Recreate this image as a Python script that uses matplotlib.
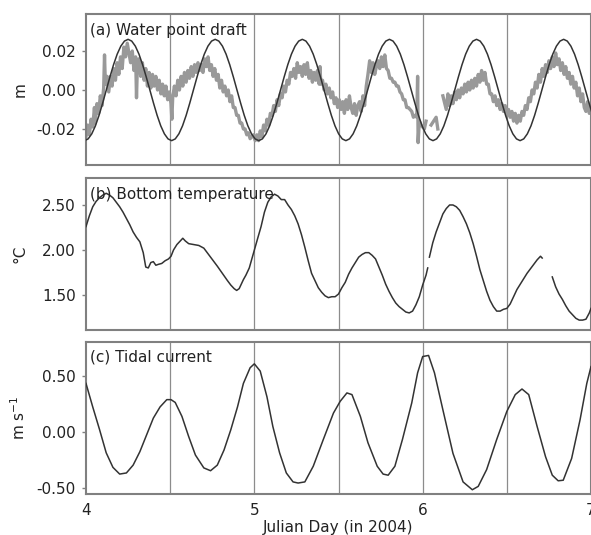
import matplotlib
matplotlib.use('Agg')
import matplotlib.pyplot as plt
import numpy as np

plt.rcParams['font.family'] = ['DejaVu Sans']
plt.rcParams['axes.unicode_minus'] = False

# --- (a) water point draft: measured record (m) ---
draft_day = [
    4.000, 4.010, 4.020, 4.030, 4.040, 4.050, 4.055, 4.065, 4.075, 4.085,
    4.095, 4.105, 4.110, 4.115, 4.125, 4.135, 4.145, 4.155, 4.165, 4.175,
    4.185, 4.195, 4.205, 4.215, 4.225, 4.235, 4.245, 4.255, 4.265, 4.275,
    4.285, 4.295, 4.300, 4.305, 4.315, 4.325, 4.335, 4.345, 4.355, 4.365,
    4.375, 4.385, 4.395, 4.405, 4.415, 4.425, 4.435, 4.445, 4.455, 4.465,
    4.475, 4.485, 4.495, 4.505, 4.510, 4.515, 4.525, 4.535, 4.545, 4.555,
    4.565, 4.575, 4.585, 4.595, 4.605, 4.615, 4.625, 4.635, 4.645, 4.655,
    4.665, 4.675, 4.685, 4.695, 4.705, 4.715, 4.725, 4.735, 4.745, 4.755,
    4.765, 4.775, 4.785, 4.795, 4.805, 4.815, 4.825, 4.835, 4.845, 4.855,
    4.865, 4.875, 4.885, 4.895, 4.905, 4.915, 4.925, 4.935, 4.945, 4.955,
    4.965, 4.975, 4.985, 4.995, 5.005, 5.015, 5.025, 5.035, 5.045, 5.055,
    5.065, 5.075, 5.085, 5.095, 5.105, 5.115, 5.125, 5.135, 5.145, 5.155,
    5.165, 5.175, 5.185, 5.195, 5.205, 5.215, 5.225, 5.235, 5.245, 5.255,
    5.265, 5.275, 5.285, 5.295, 5.305, 5.315, 5.325, 5.335, 5.345, 5.355,
    5.365, 5.375, 5.385, 5.390, 5.395, 5.405, 5.415, 5.425, 5.435, 5.445,
    5.455, 5.465, 5.475, 5.485, 5.495, 5.505, 5.515, 5.525, 5.535, 5.545,
    5.555, 5.565, 5.575, 5.585, 5.595, 5.605, 5.615, 5.625, 5.635, 5.645,
    5.655, 5.665, 5.675, 5.685, 5.695, 5.705, 5.715, 5.725, 5.735, 5.745,
    5.755, 5.765, 5.775, 5.785, 5.795, 5.805, 5.815, 5.825, 5.835, 5.845,
    5.855, 5.865, 5.875, 5.885, 5.895, 5.905, 5.915, 5.925, 5.935, 5.945,
    5.955, 5.965, 5.970, 5.973, 5.980, 5.990, 6.000, 6.010, 6.020, 6.030,
    6.050, 6.080, 6.090, 6.100, 6.120, 6.140, 6.150, 6.160, 6.170, 6.180,
    6.190, 6.200, 6.210, 6.220, 6.230, 6.240, 6.250, 6.260, 6.270, 6.280,
    6.290, 6.300, 6.310, 6.320, 6.330, 6.340, 6.350, 6.360, 6.370, 6.380,
    6.390, 6.400, 6.410, 6.420, 6.430, 6.440, 6.450, 6.460, 6.470, 6.480,
    6.490, 6.500, 6.510, 6.520, 6.530, 6.540, 6.550, 6.560, 6.570, 6.580,
    6.590, 6.600, 6.610, 6.620, 6.630, 6.640, 6.650, 6.660, 6.670, 6.680,
    6.690, 6.700, 6.710, 6.720, 6.730, 6.740, 6.750, 6.760, 6.770, 6.780,
    6.790, 6.800, 6.810, 6.820, 6.830, 6.840, 6.850, 6.860, 6.870, 6.880,
    6.890, 6.900, 6.910, 6.920, 6.930, 6.940, 6.950, 6.960, 6.970, 6.980,
    6.990, 7.000,
]
draft_m = [
    -0.024, -0.018, -0.023, -0.015, -0.019, -0.009, -0.017, -0.007, -0.012, -0.003,
    -0.008, 0.001, 0.018, 0.003, 0.007, -0.001, 0.007, 0.002, 0.011, 0.005,
    0.014, 0.008, 0.017, 0.011, 0.022, 0.017, 0.024, 0.019, 0.014, 0.020,
    0.010, 0.017, -0.004, 0.012, 0.016, 0.007, 0.014, 0.005, 0.011, 0.002,
    0.009, 0.001, 0.008, 0.002, 0.007, 0.000, 0.005, -0.002, 0.003, -0.003,
    0.002, -0.005, -0.001, -0.007, -0.015, -0.004, 0.002, -0.003, 0.005, 0.000,
    0.007, 0.002, 0.009, 0.004, 0.010, 0.006, 0.012, 0.007, 0.013, 0.009,
    0.014, 0.010, 0.013, 0.009, 0.016, 0.012, 0.017, 0.010, 0.013, 0.007,
    0.011, 0.005, 0.008, 0.001, 0.005, -0.001, 0.002, -0.003, 0.000, -0.006,
    -0.003, -0.009, -0.009, -0.013, -0.013, -0.017, -0.017, -0.020, -0.020, -0.023,
    -0.022, -0.025, -0.024, -0.023, -0.026, -0.023, -0.026, -0.021, -0.024, -0.018,
    -0.021, -0.015, -0.018, -0.012, -0.013, -0.008, -0.011, -0.005, -0.008, -0.002,
    -0.004, 0.002, -0.001, 0.005, 0.003, 0.009, 0.007, 0.011, 0.006, 0.014,
    0.009, 0.012, 0.007, 0.013, 0.008, 0.014, 0.006, 0.010, 0.004, 0.009,
    0.005, 0.010, 0.003, 0.012, 0.003, 0.005, 0.000, 0.003, -0.002, 0.001,
    -0.004, -0.001, -0.007, -0.004, -0.009, -0.005, -0.010, -0.006, -0.012, -0.005,
    -0.010, -0.003, -0.009, -0.012, -0.007, -0.013, -0.008, -0.006, -0.011, -0.003,
    -0.008, 0.002, 0.008, 0.015, 0.009, 0.014, 0.008, 0.012, 0.015, 0.011,
    0.017, 0.012, 0.018, 0.011, 0.010, 0.006, 0.006, 0.004, 0.004, 0.002,
    0.002, -0.001, -0.002, -0.005, -0.005, -0.009, -0.009, -0.010, -0.011, -0.014,
    -0.013, -0.014, 0.007, -0.027, -0.016, -0.018, -0.019, -0.020, -0.016, np.nan,
    -0.018, -0.014, -0.020, np.nan, -0.003, -0.010, -0.002, -0.008, -0.003, -0.007,
    -0.001, -0.005, 0.000, -0.004, 0.001, -0.002, 0.003, -0.001, 0.004, 0.000,
    0.005, 0.001, 0.006, 0.002, 0.008, 0.004, 0.010, 0.005, 0.009, 0.003,
    0.003, -0.002, -0.002, -0.006, -0.003, -0.008, -0.005, -0.010, -0.007, -0.011,
    -0.008, -0.013, -0.010, -0.014, -0.011, -0.016, -0.012, -0.017, -0.013, -0.016,
    -0.011, -0.013, -0.008, -0.010, -0.004, -0.006, 0.000, -0.002, 0.004, 0.001,
    0.008, 0.004, 0.011, 0.007, 0.013, 0.009, 0.015, 0.011, 0.017, 0.012,
    0.019, 0.013, 0.016, 0.010, 0.014, 0.008, 0.012, 0.006, 0.009, 0.003,
    0.007, 0.001, 0.004, -0.003, 0.001, -0.006, -0.002, -0.009, -0.011, -0.006,
    -0.012, -0.010,
]

# --- (a) predicted tidal draft (m), sampled every 1/24 of an M2 cycle ---
model_day = np.linspace(3.99125, 7.0963, 145)
model_m = [
    -0.0260, -0.0251, -0.0225, -0.0184, -0.0130, -0.0067, 0.0000, 0.0067, 0.0130, 0.0184, 0.0225, 0.0251,
    0.0260, 0.0251, 0.0225, 0.0184, 0.0130, 0.0067, 0.0000, -0.0067, -0.0130, -0.0184, -0.0225, -0.0251,
    -0.0260, -0.0251, -0.0225, -0.0184, -0.0130, -0.0067, 0.0000, 0.0067, 0.0130, 0.0184, 0.0225, 0.0251,
    0.0260, 0.0251, 0.0225, 0.0184, 0.0130, 0.0067, 0.0000, -0.0067, -0.0130, -0.0184, -0.0225, -0.0251,
    -0.0260, -0.0251, -0.0225, -0.0184, -0.0130, -0.0067, 0.0000, 0.0067, 0.0130, 0.0184, 0.0225, 0.0251,
    0.0260, 0.0251, 0.0225, 0.0184, 0.0130, 0.0067, 0.0000, -0.0067, -0.0130, -0.0184, -0.0225, -0.0251,
    -0.0260, -0.0251, -0.0225, -0.0184, -0.0130, -0.0067, 0.0000, 0.0067, 0.0130, 0.0184, 0.0225, 0.0251,
    0.0260, 0.0251, 0.0225, 0.0184, 0.0130, 0.0067, 0.0000, -0.0067, -0.0130, -0.0184, -0.0225, -0.0251,
    -0.0260, -0.0251, -0.0225, -0.0184, -0.0130, -0.0067, 0.0000, 0.0067, 0.0130, 0.0184, 0.0225, 0.0251,
    0.0260, 0.0251, 0.0225, 0.0184, 0.0130, 0.0067, 0.0000, -0.0067, -0.0130, -0.0184, -0.0225, -0.0251,
    -0.0260, -0.0251, -0.0225, -0.0184, -0.0130, -0.0067, 0.0000, 0.0067, 0.0130, 0.0184, 0.0225, 0.0251,
    0.0260, 0.0251, 0.0225, 0.0184, 0.0130, 0.0067, 0.0000, -0.0067, -0.0130, -0.0184, -0.0225, -0.0251,
    -0.0260,
]

# --- (b) bottom temperature (deg C) ---
temp_day = [
    4.00, 4.02, 4.04, 4.06, 4.08, 4.10, 4.12, 4.14, 4.16, 4.18,
    4.20, 4.22, 4.24, 4.26, 4.28, 4.30, 4.32, 4.34, 4.355, 4.37,
    4.385, 4.40, 4.415, 4.43, 4.45, 4.47, 4.49, 4.505, 4.52, 4.54,
    4.56, 4.575, 4.59, 4.61, 4.64, 4.67, 4.70, 4.72, 4.74, 4.76,
    4.78, 4.81, 4.84, 4.86, 4.88, 4.895, 4.91, 4.935, 4.95, 4.97,
    4.985, 5.00, 5.02, 5.04, 5.06, 5.08, 5.10, 5.12, 5.14, 5.16,
    5.18, 5.20, 5.22, 5.24, 5.26, 5.28, 5.30, 5.32, 5.34, 5.36,
    5.38, 5.40, 5.42, 5.44, 5.46, 5.48, 5.50, 5.52, 5.54, 5.56,
    5.58, 5.60, 5.62, 5.64, 5.66, 5.68, 5.70, 5.72, 5.74, 5.76,
    5.78, 5.80, 5.82, 5.84, 5.86, 5.88, 5.90, 5.92, 5.94, 5.96,
    5.98, 6.00, 6.02, 6.03, 6.035, 6.04, 6.06, 6.08, 6.10, 6.12,
    6.14, 6.16, 6.18, 6.20, 6.22, 6.24, 6.26, 6.28, 6.30, 6.32,
    6.34, 6.36, 6.38, 6.40, 6.42, 6.44, 6.46, 6.48, 6.50, 6.52,
    6.54, 6.56, 6.58, 6.60, 6.62, 6.64, 6.66, 6.68, 6.70, 6.71,
    6.74, 6.77, 6.79, 6.81, 6.83, 6.85, 6.87, 6.89, 6.91, 6.93,
    6.95, 6.97, 6.99, 7.00,
]
temp_c = [
    2.26, 2.38, 2.48, 2.54, 2.58, 2.61, 2.63, 2.61, 2.58, 2.53,
    2.48, 2.42, 2.35, 2.28, 2.20, 2.14, 2.09, 1.97, 1.81, 1.80,
    1.86, 1.87, 1.83, 1.84, 1.85, 1.88, 1.90, 1.93, 2.00, 2.06,
    2.10, 2.13, 2.10, 2.07, 2.06, 2.05, 2.02, 1.97, 1.92, 1.87,
    1.82, 1.74, 1.66, 1.61, 1.57, 1.55, 1.57, 1.67, 1.72, 1.80,
    1.90, 2.00, 2.13, 2.26, 2.42, 2.53, 2.59, 2.62, 2.60, 2.56,
    2.56, 2.50, 2.45, 2.38, 2.29, 2.17, 2.03, 1.88, 1.74, 1.66,
    1.58, 1.53, 1.49, 1.47, 1.48, 1.48, 1.51, 1.58, 1.64, 1.73,
    1.80, 1.86, 1.92, 1.95, 1.97, 1.97, 1.94, 1.90, 1.81, 1.72,
    1.62, 1.54, 1.47, 1.41, 1.37, 1.34, 1.31, 1.30, 1.32, 1.39,
    1.48, 1.61, 1.72, 1.80, np.nan, 1.92, 2.08, 2.20, 2.30, 2.40,
    2.46, 2.50, 2.50, 2.48, 2.44, 2.37, 2.29, 2.19, 2.07, 1.93,
    1.78, 1.66, 1.54, 1.44, 1.37, 1.32, 1.32, 1.34, 1.35, 1.40,
    1.48, 1.56, 1.62, 1.68, 1.74, 1.79, 1.84, 1.89, 1.93, 1.91,
    np.nan, 1.70, 1.59, 1.51, 1.45, 1.38, 1.32, 1.28, 1.24, 1.22,
    1.22, 1.23, 1.30, 1.35,
]

# --- (c) tidal current (m/s) ---
current_day = [
    4.00, 4.04, 4.08, 4.12, 4.16, 4.20, 4.24, 4.28, 4.32, 4.36,
    4.40, 4.44, 4.48, 4.505, 4.53, 4.57, 4.61, 4.65, 4.70, 4.74,
    4.78, 4.82, 4.86, 4.90, 4.935, 4.975, 5.00, 5.035, 5.075, 5.11,
    5.15, 5.19, 5.23, 5.26, 5.30, 5.35, 5.41, 5.47, 5.51, 5.55,
    5.58, 5.63, 5.675, 5.73, 5.765, 5.795, 5.835, 5.88, 5.935, 5.97,
    6.00, 6.035, 6.07, 6.12, 6.18, 6.24, 6.295, 6.33, 6.38, 6.44,
    6.50, 6.55, 6.59, 6.63, 6.68, 6.73, 6.77, 6.805, 6.835, 6.885,
    6.935, 6.975, 7.00,
]
current_ms = [
    0.43, 0.22, 0.02, -0.19, -0.32, -0.38, -0.37, -0.30, -0.18, -0.03,
    0.12, 0.22, 0.285, 0.285, 0.26, 0.135, -0.045, -0.21, -0.325, -0.35,
    -0.30, -0.165, 0.015, 0.22, 0.43, 0.57, 0.605, 0.54, 0.31, 0.045,
    -0.19, -0.37, -0.45, -0.46, -0.45, -0.31, -0.07, 0.165, 0.27, 0.345,
    0.33, 0.135, -0.10, -0.31, -0.38, -0.39, -0.31, -0.07, 0.255, 0.525,
    0.67, 0.68, 0.525, 0.195, -0.195, -0.45, -0.52, -0.49, -0.34, -0.07,
    0.18, 0.33, 0.38, 0.33, 0.045, -0.225, -0.39, -0.44, -0.435, -0.24,
    0.105, 0.43, 0.58,
]

half_days = [4.5, 5.0, 5.5, 6.0, 6.5]
day_ticks = [4, 5, 6, 7]

FRAME = '#808080'
INK = '#222222'
W, H = 591, 535


def panel(fig, top, bottom):
    """Axes placed by pixel edges within the figure"""
    ax = fig.add_axes([86 / W, 1 - bottom / H, (591 - 86) / W, (bottom - top) / H])
    for s in ax.spines.values():
        s.set_color(FRAME)
        s.set_linewidth(1.5)
    ax.set_xlim(4, 7)
    ax.set_xticks(day_ticks)
    for d in half_days:
        ax.axvline(d, color='#8c8c8c', lw=0.9, zorder=1)
    ax.tick_params(axis='y', direction='out', length=3, width=1, color=FRAME,
                   pad=4.5, labelsize=11, labelcolor=INK)
    ax.tick_params(axis='x', length=0, pad=6.5, labelsize=11, labelcolor=INK)
    ax.yaxis.set_label_coords(-0.115, 0.5)
    return ax


fig = plt.figure(figsize=(W / 100, H / 100), dpi=100)

# (a) water point draft
ax1 = panel(fig, 14, 165)
ax1.plot(draft_day, draft_m, color='#999999', lw=2.4, zorder=2)
ax1.plot(model_day, model_m, color='#333333', lw=1.1, zorder=3)
ax1.set_ylim(-0.0385, 0.039)
ax1.set_yticks([-0.02, 0.0, 0.02])
ax1.set_yticklabels(['-0.02', '0.00', '0.02'])
ax1.set_xticklabels([])
ax1.set_ylabel('m', fontsize=11, color=INK)
ax1.text(0.008, 0.94, '(a) Water point draft', transform=ax1.transAxes,
         ha='left', va='top', fontsize=11, color=INK)

# (b) bottom temperature
ax2 = panel(fig, 178, 330)
ax2.plot(temp_day, temp_c, color='#333333', lw=1.1, zorder=3)
ax2.set_ylim(1.11, 2.80)
ax2.set_yticks([1.5, 2.0, 2.5])
ax2.set_yticklabels(['1.50', '2.00', '2.50'])
ax2.set_xticklabels([])
ax2.set_ylabel('°C', fontsize=11, color=INK)
ax2.text(0.008, 0.94, '(b) Bottom temperature', transform=ax2.transAxes,
         ha='left', va='top', fontsize=11, color=INK)

# (c) tidal current
ax3 = panel(fig, 342, 494)
ax3.plot(current_day, current_ms, color='#333333', lw=1.1, zorder=3)
ax3.set_ylim(-0.558, 0.80)
ax3.set_yticks([-0.5, 0.0, 0.5])
ax3.set_yticklabels(['-0.50', '0.00', '0.50'])
ax3.set_xticklabels(['4', '5', '6', '7'])
ax3.set_ylabel('m s$^{-1}$', fontsize=11, color=INK)
ax3.set_xlabel('Julian Day (in 2004)', fontsize=11, color=INK, labelpad=1.5)
ax3.text(0.008, 0.95, '(c) Tidal current', transform=ax3.transAxes,
         ha='left', va='top', fontsize=11, color=INK)

fig.savefig('out.png', dpi=100)
plt.close(fig)
